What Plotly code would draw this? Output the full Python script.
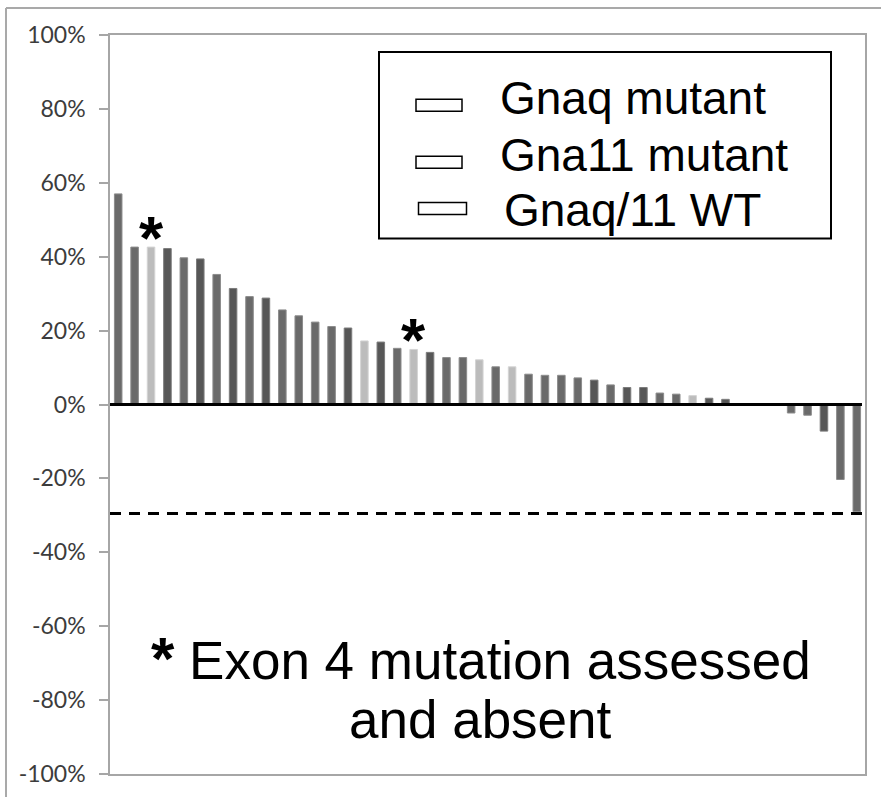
import plotly.graph_objects as go

# Best percentage change per patient, ordered waterfall-style
patients = list(range(1, 47))
change = [57.0, 42.6, 42.6, 42.2, 39.7, 39.4, 35.2, 31.4, 29.2, 28.8,
          25.6, 24.0, 22.3, 21.1, 20.7, 17.2, 16.9, 15.2, 14.9, 14.1,
          12.7, 12.7, 12.1, 10.2, 10.2, 8.2, 7.9, 7.9, 7.2, 6.6,
          5.3, 4.6, 4.6, 3.1, 2.8, 2.4, 1.7, 1.4, 0.0, 0.0,
          0.0, -2.3, -2.9, -7.2, -20.3, -29.0]
# Genotype of each patient: 0 = Gnaq mutant, 1 = Gna11 mutant, 2 = Gnaq/11 WT
genotype = [0, 0, 2, 1, 0, 1, 0, 1, 0, 1,
            0, 0, 0, 0, 1, 2, 1, 0, 2, 1,
            0, 0, 2, 0, 2, 0, 0, 0, 0, 1,
            0, 1, 1, 0, 0, 2, 1, 1, 0, 0,
            0, 0, 0, 1, 0, 0]
# Patients whose exon 4 was assessed and found unmutated
exon4_absent = [3, 19]

group_names = ["Gnaq mutant", "Gna11 mutant", "Gnaq/11 WT"]
group_colors = ["#6a6a6a", "#575757", "#bcbcbc"]
edge_colors = ["#8c8c8c", "#7c7c7c", "#d4d4d4"]

y_ticks = [-100, -80, -60, -40, -20, 0, 20, 40, 60, 80, 100]
y_tick_text = [f"{v}%" for v in y_ticks]
threshold = -29.5

note_lines = ["<span style='font-size:60px'><b>*</b></span> Exon 4 mutation assessed",
              "and absent"]

TEXT_FONT = "Liberation Sans, Arial, sans-serif"

fig = go.Figure()
for g, name in enumerate(group_names):
    xs = [p for p, gg in zip(patients, genotype) if gg == g]
    ys = [c for c, gg in zip(change, genotype) if gg == g]
    fig.add_trace(go.Bar(
        x=xs, y=ys, name=name, showlegend=False,
        marker=dict(color=group_colors[g], line=dict(color=edge_colors[g], width=1)),
        width=0.46,
    ))

# Asterisks above the flagged bars
for p in exon4_absent:
    fig.add_annotation(x=p, y=change[p - 1], text="<b>*</b>", showarrow=False,
                       yanchor="bottom", yshift=-27,
                       font=dict(family=TEXT_FONT, size=62, color="black"))

# Zero line and response threshold
fig.add_shape(type="line", xref="paper", yref="y", x0=0, x1=0.996, y0=0, y1=0,
              line=dict(color="black", width=3), layer="above")
fig.add_shape(type="line", xref="paper", yref="y", x0=0, x1=0.996,
              y0=threshold, y1=threshold,
              line=dict(color="black", width=3, dash="11px,8px"), layer="above")

# Legend box with hollow swatches
L, T, W, H = 110, 35, 755, 741


def px(xp):
    return (xp - L) / W


def py(yp):
    return (T + H - yp) / H


fig.add_shape(type="rect", xref="paper", yref="paper",
              x0=px(379), x1=px(831), y0=py(239), y1=py(52),
              line=dict(color="black", width=2), fillcolor="white", layer="above")
swatches = [(416, 462, 99.5, 111.5), (416, 462, 156.5, 168.5), (418.5, 466.5, 203, 215)]
text_rows = [(498, 98), (498, 155), (501.5, 210)]
for (x0, x1, y0, y1), (tx, ty), name in zip(swatches, text_rows, group_names):
    fig.add_shape(type="rect", xref="paper", yref="paper",
                  x0=px(x0), x1=px(x1), y0=py(y1), y1=py(y0),
                  line=dict(color="black", width=1.5), fillcolor="white", layer="above")
    fig.add_annotation(xref="paper", yref="paper", x=px(tx), y=py(ty), text=name,
                       showarrow=False, xanchor="left", yanchor="middle",
                       font=dict(family=TEXT_FONT, size=46, color="black"))

# Footnote
fig.add_annotation(xref="paper", yref="paper", x=px(481), y=py(660), text=note_lines[0],
                   showarrow=False, xanchor="center", yanchor="middle",
                   font=dict(family=TEXT_FONT, size=53, color="black"))
fig.add_annotation(xref="paper", yref="paper", x=px(480), y=py(721), text=note_lines[1],
                   showarrow=False, xanchor="center", yanchor="middle",
                   font=dict(family=TEXT_FONT, size=53, color="black"))

# Outer frame (left and top edges)
fig.add_shape(type="line", xref="paper", yref="paper",
              x0=px(6), x1=px(6), y0=py(799), y1=py(8),
              line=dict(color="#a9a9a9", width=2))
fig.add_shape(type="line", xref="paper", yref="paper",
              x0=px(6), x1=px(881), y0=py(8), y1=py(8),
              line=dict(color="#a9a9a9", width=2))

fig.update_layout(
    width=881, height=799,
    margin=dict(l=L, r=881 - L - W, t=T, b=799 - T - H),
    paper_bgcolor="white", plot_bgcolor="white",
    barmode="overlay",
    showlegend=False,
)
fig.update_xaxes(range=[0.5, 46.5], showticklabels=False, ticks="",
                 showgrid=False, zeroline=False,
                 showline=True, linecolor="#a6a6a6", linewidth=1.5, mirror=True)
fig.update_yaxes(range=[-100, 100], tickvals=y_ticks, ticktext=y_tick_text,
                 ticks="outside", ticklen=9, tickcolor="#a6a6a6", tickwidth=1.5,
                 ticklabelstandoff=9,
                 showgrid=False, zeroline=False,
                 showline=True, linecolor="#a6a6a6", linewidth=1.5, mirror=True,
                 tickfont=dict(family="Lato, Noto Sans, sans-serif", size=23, color="#3c3c3c"))

fig.write_html("out.html")
